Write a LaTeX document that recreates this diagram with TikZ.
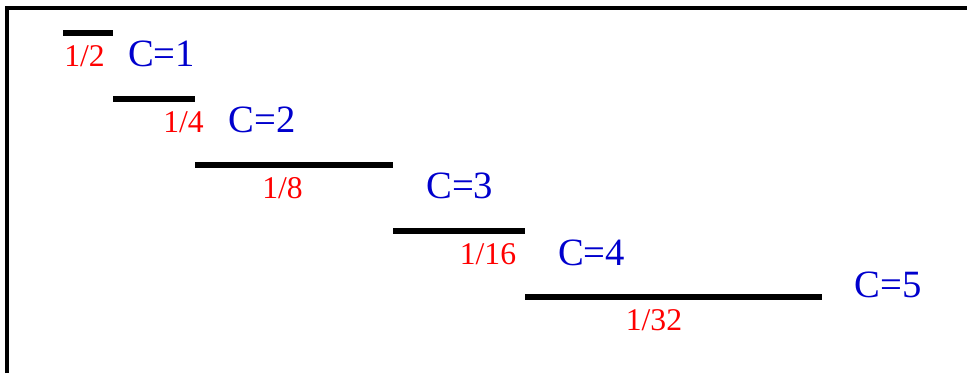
\documentclass[tikz,border=0pt]{standalone}
\usepackage{fontspec}
\setmainfont{Liberation Serif}
\definecolor{fracred}{RGB}{255,0,0}
\definecolor{costblue}{RGB}{0,0,205}

\begin{document}
\begin{tikzpicture}[x=0.02cm,y=-0.02cm,
	seg/.style={line width=0.13cm},
	frac/.style={text=fracred,font=\fontsize{18}{18}\selectfont,anchor=base,inner sep=0pt},
	cost/.style={text=costblue,font=\fontsize{22}{22}\selectfont,anchor=base,inner sep=0pt}]
	\useasboundingbox (0,0) rectangle (967,373);
	\draw[line width=0.08cm] (7,373) -- (7,8) -- (967,8);

	% end points of the segments
	\coordinate (a_1) at (63,33);   \coordinate (b_1) at (113,33);
	\coordinate (a_2) at (113,99);  \coordinate (b_2) at (195,99);
	\coordinate (a_3) at (195,165); \coordinate (b_3) at (393,165);
	\coordinate (a_4) at (393,231); \coordinate (b_4) at (525,231);
	\coordinate (a_5) at (525,297); \coordinate (b_5) at (822,297);
	\draw[seg] (a_1) -- (b_1);
	\draw[seg] (a_2) -- (b_2);
	\draw[seg] (a_3) -- (b_3);
	\draw[seg] (a_4) -- (b_4);
	\draw[seg] (a_5) -- (b_5);

	\node[frac] (f_1) at (84.5,66) {1/2};
	\node[frac] (f_2) at (183.5,132) {1/4};
	\node[frac] (f_3) at (282.5,198) {1/8};
	\node[frac] (f_4) at (488,264) {1/16};
	\node[frac] (f_5) at (654,330) {1/32};

	\node[cost] (c_1) at (161.5,66) {C=1};
	\node[cost] (c_2) at (262,132) {C=2};
	\node[cost] (c_3) at (459.7,198) {C=3};
	\node[cost] (c_4) at (591.5,265) {C=4};
	\node[cost] (c_5) at (888,297) {C=5};
\end{tikzpicture}
\end{document}
